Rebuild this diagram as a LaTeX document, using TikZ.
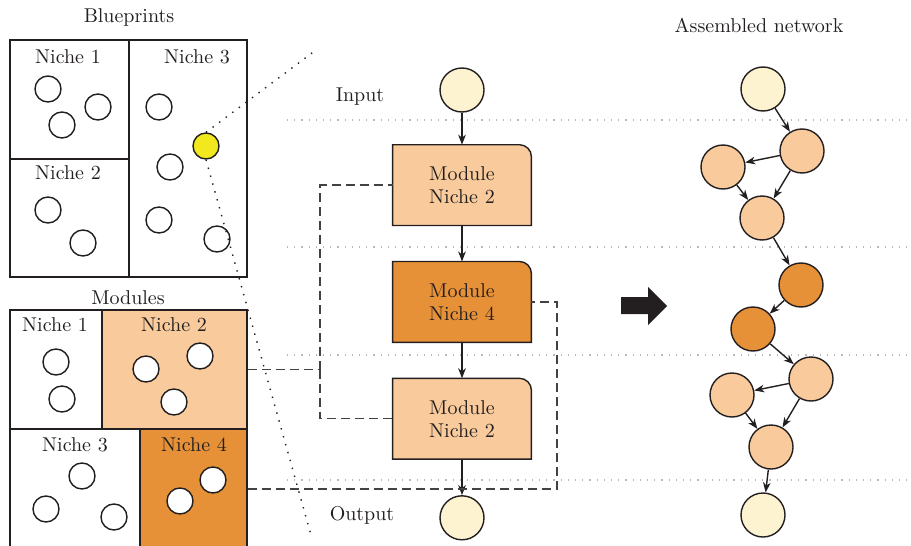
\documentclass[tikz,border=0pt]{standalone}
\usetikzlibrary{positioning,arrows.meta,backgrounds}

\definecolor{peach}{HTML}{F9CB9C}
\definecolor{amber}{HTML}{E69138}
\definecolor{cream}{HTML}{FEF3D0}
\definecolor{lemon}{HTML}{F2E81E}
\definecolor{ink}{HTML}{231F20}

\tikzset{
  niche/.style={draw=ink, line width=0.7pt, inner sep=0pt},
  dot/.style={circle, draw=ink, fill=white, line width=0.7pt, minimum size=13pt, inner sep=0pt},
  unit/.style={circle, draw=ink, line width=0.7pt, minimum size=22pt, inner sep=0pt},
  module/.style={minimum width=69pt, minimum height=40pt, align=center, inner sep=0pt},
  flow/.style={-{Stealth[length=5pt,width=3.8pt,inset=1.5pt]}, draw=ink, line width=0.7pt},
  link/.style={draw=ink!85, line width=0.7pt, dash pattern=on 4.5pt off 2.5pt},
  guide/.style={draw=gray!55, line width=0.6pt, dash pattern=on 0.6pt off 3pt},
  zoomline/.style={draw=ink, line width=0.7pt, dash pattern=on 0.7pt off 3.4pt},
}

\begin{document}
\begin{tikzpicture}[x=0.5pt, y=-0.5pt, node distance=18pt,
    every node/.style={font=\fontsize{10}{11.5}\selectfont, text=ink}]
    \useasboundingbox (0,0) rectangle (911,546);

    % Layer guides
    \foreach \y in {120,247,355,480}
        \draw[guide] (287,\y) -- (911,\y);

    % Blueprints
    \node (bptitle) at (129,17) {Blueprints};
    \node[niche, minimum width=59.5pt, minimum height=59.5pt] (bp1) at (69.5,99.5) {};
    \node[niche, minimum width=59.5pt, minimum height=59pt] (bp2) at (69.5,218) {};
    \node[niche, minimum width=59pt, minimum height=118.5pt] (bp3) at (188,158.5) {};
    \node (bp1t) at (68,57) {Niche 1};
    \node (bp2t) at (68,173) {Niche 2};
    \node (bp3t) at (197,57) {Niche 3};
    \foreach \x/\y [count=\i] in {48/89, 98/107, 62/125, 48/210, 83/243,
                                  159/107, 170/167, 159/220, 217/239}
        \node[dot] (b\i) at (\x,\y) {};
    \node[dot, fill=lemon] (pick) at (206,146) {};

    % Modules
    \node (mdtitle) at (128,298) {Modules};
    \node[niche, minimum width=46pt, minimum height=59.5pt] (md1) at (56,369.5) {};
    \node[niche, fill=peach, minimum width=72.5pt, minimum height=59.5pt] (md2) at (174.5,369.5) {};
    \node[niche, minimum width=65pt, minimum height=60pt] (md3) at (75,489) {};
    \node[niche, fill=amber, minimum width=53.5pt, minimum height=60pt] (md4) at (193.5,489) {};
    \node (md1t) at (55,325) {Niche 1};
    \node (md2t) at (174,325) {Niche 2};
    \node (md3t) at (75,445) {Niche 3};
    \node (md4t) at (194,445) {Niche 4};
    \foreach \x/\y [count=\i] in {56/362, 62/399, 146/369, 200/356, 174/402,
                                  82/476, 46/509, 114/517, 213/480, 180/501}
        \node[dot] (d\i) at (\x,\y) {};

    % Zoom lines
    \coordinate (zoomtop) at (316,50);
    \coordinate (zoombot) at (311,535);
    \draw[zoomline] (pick.north) -- (zoomtop);
    \draw[zoomline] (pick.south) -- (zoombot);

    % Flow
    \node[unit, fill=cream] (input) at (462,90) {};
    \node[module, below=16pt of input] (m1) {Module\\Niche 2};
    \node[module, below=of m1] (m2) {Module\\Niche 4};
    \node[module, below=of m2] (m3) {Module\\Niche 2};
    \node[unit, fill=cream, below=of m3] (output) {};
    \node (inlabel) at (360,97) {Input};
    \node (outlabel) at (362,515) {Output};

    \begin{scope}[on background layer]
        \foreach \m/\c in {m1/peach, m2/amber, m3/peach} {
            \fill[gray!35, xshift=0.8pt, yshift=-0.8pt]
                (\m.south west) -- (\m.north west) -- ([xshift=-6pt]\m.north east)
                arc[start angle=90, end angle=0, radius=6pt] -- (\m.south east) -- cycle;
            \draw[fill=\c, draw=ink, line width=0.7pt]
                (\m.south west) -- (\m.north west) -- ([xshift=-6pt]\m.north east)
                arc[start angle=90, end angle=0, radius=6pt] -- (\m.south east) -- cycle;
        }
    \end{scope}

    \draw[flow] (input) -- (m1);
    \draw[flow] (m1) -- (m2);
    \draw[flow] (m2) -- (m3);
    \draw[flow] (m3) -- (output);

    % Module links
    \coordinate (split) at (320,369.5);
    \coordinate (bend) at (557,489);
    \draw[link] (md2.east) -- (split);
    \draw[link] (split) |- (m1.west);
    \draw[link] (split) |- (m3.west);
    \draw[link] (md4.east) -- (bend) |- (m2.east);

    % Arrow
    \fill[ink] (621,297) -- (648,297) -- (648,287) -- (667,306)
        -- (648,325) -- (648,314) -- (621,314) -- cycle;

    % Assembled network
    \node (nettitle) at (759,25) {Assembled network};
    \node[unit, fill=cream] (n1) at (763,89) {};
    \node[unit, fill=peach] (n2) at (802,151) {};
    \node[unit, fill=peach] (n3) at (723,167) {};
    \node[unit, fill=peach] (n4) at (762,218) {};
    \node[unit, fill=amber] (n5) at (801,285) {};
    \node[unit, fill=amber] (n6) at (753,329) {};
    \node[unit, fill=peach] (n7) at (811,379) {};
    \node[unit, fill=peach] (n8) at (732,395) {};
    \node[unit, fill=peach] (n9) at (771,447) {};
    \node[unit, fill=cream] (n10) at (763,515) {};

    \foreach \a/\b in {n1/n2, n2/n3, n2/n4, n3/n4, n4/n5, n5/n6,
                       n6/n7, n7/n8, n7/n9, n8/n9, n9/n10}
        \draw[flow] (\a) -- (\b);
\end{tikzpicture}
\end{document}
